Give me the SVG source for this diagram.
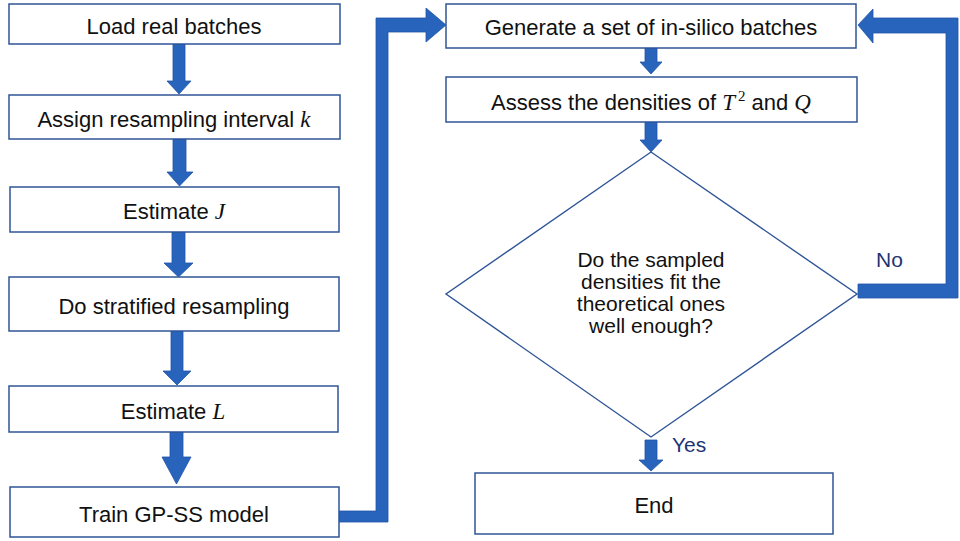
<svg xmlns="http://www.w3.org/2000/svg" width="960" height="541" viewBox="0 0 960 541">
<style>
.box{fill:#fff;stroke:#2F5597;stroke-width:1.5}
.dia{fill:#fff;stroke:#2F5597;stroke-width:1.4}
.t{font-family:"Liberation Sans",Arial,sans-serif;font-size:22px;fill:#111;text-anchor:middle}
.d{font-size:21px}
.m{font-family:"Liberation Serif","DejaVu Serif",serif;font-style:italic;font-size:23px}
.sup{font-family:"Liberation Serif","DejaVu Serif",serif;font-size:15px}
.lab{font-family:"Liberation Sans",Arial,sans-serif;font-size:21px;fill:#1F3473}
.arr{fill:#2863BC;stroke:#2257A8;stroke-width:0.8}
</style>
<rect width="960" height="541" fill="#fff"/>
<g id="connectors">
<polygon class="arr" points="173,44 185,44 185,81 191,81 179,94 167,81 173,81"/>
<polygon class="arr" points="173,139 186,139 186,172 193,172 179.5,186 167,172 173,172"/>
<polygon class="arr" points="172,232 185,232 185,263 193,263 178.5,277 164,263 172,263"/>
<polygon class="arr" points="171,331 183,331 183,371 191,371 177,385 163,371 171,371"/>
<polygon class="arr" points="170,432 183,432 183,457 191,457 176.5,484 162,457 170,457"/>
<polygon class="arr" points="339,511 376,511 376,18 426,18 426,8 446,25 426,42 426,32 388,32 388,522 339,522"/>
<polygon class="arr" points="645,48 657,48 657,62 662,62 651,74 640,62 645,62"/>
<polygon class="arr" points="645,122 657,122 657,140 662,140 651,152 640,140 645,140"/>
<polygon class="arr" points="858,284 946,284 946,33 873,33 873,43 858,25 873,9 873,18 958,18 958,298 858,298"/>
<polygon class="arr" points="645,440 657,440 657,460 663,460 651,471 639,460 645,460"/>
<text class="lab" x="876" y="267">No</text>
<text class="lab" x="672" y="452">Yes</text>
</g>
<g id="n1"><rect class="box" x="9" y="4" width="331" height="40"/><text class="t" x="174" y="34">Load real batches</text></g>
<g id="n2"><rect class="box" x="9" y="95" width="331" height="44"/><text class="t" x="174" y="127">Assign resampling interval <tspan class="m">k</tspan></text></g>
<g id="n3"><rect class="box" x="10" y="187" width="329" height="45"/><text class="t" x="174" y="219">Estimate <tspan class="m">J</tspan></text></g>
<g id="n4"><rect class="box" x="9" y="277" width="330" height="54"/><text class="t" x="174" y="314">Do stratified resampling</text></g>
<g id="n5"><rect class="box" x="9" y="386" width="329" height="46"/><text class="t" x="173" y="419">Estimate <tspan class="m">L</tspan></text></g>
<g id="n6"><rect class="box" x="10" y="487" width="329" height="50"/><text class="t" x="174" y="522">Train GP-SS model</text></g>
<g id="n7"><rect class="box" x="446" y="4" width="410" height="44"/><text class="t" x="651" y="35">Generate a set of in-silico batches</text></g>
<g id="n8"><rect class="box" x="446" y="77" width="411" height="45"/><text class="t" x="651" y="110">Assess the densities of <tspan class="m">T</tspan><tspan class="sup" dx="3" dy="-9">2</tspan><tspan dy="9"> and </tspan><tspan class="m">Q</tspan></text></g>
<g id="n9"><polygon class="dia" points="651,152 857,294 651,437 446,294"/>
<text class="t d" x="651" y="267">Do the sampled</text>
<text class="t d" x="651" y="289">densities fit the</text>
<text class="t d" x="651" y="311">theoretical ones</text>
<text class="t d" x="651" y="333">well enough?</text></g>
<g id="n10"><rect class="box" x="475" y="473" width="358" height="61"/><text class="t" x="654" y="513">End</text></g>
</svg>
